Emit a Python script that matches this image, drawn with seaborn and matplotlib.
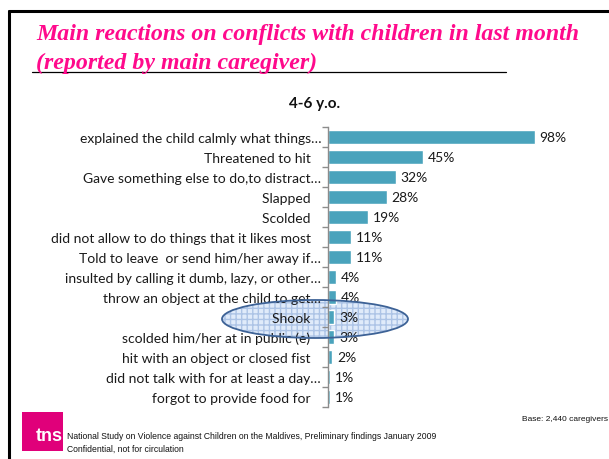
import numpy as np
import pandas as pd
import matplotlib
matplotlib.use("Agg")
import matplotlib.pyplot as plt
from matplotlib.patches import Ellipse, Rectangle
from matplotlib.lines import Line2D
import seaborn as sns

# Reactions reported for children aged 4-6
reactions = [
    "explained the child calmly what things\u2026",
    "Threatened to hit   ",
    "Gave something else to do,to distract\u2026",
    "Slapped   ",
    "Scolded   ",
    "did not allow to do things that it likes most   ",
    "Told to leave  or send him/her away if\u2026",
    "insulted by calling it dumb, lazy, or other\u2026",
    "throw an object at the child to get\u2026",
    "Shook   ",
    "scolded him/her at in public (e)   ",
    "hit with an object or closed fist   ",
    "did not talk with for at least a day\u2026",
    "forgot to provide food for   ",
]
shares = [98, 45, 32, 28, 19, 11, 11, 4, 4, 3, 3, 2, 1, 1]

df = pd.DataFrame({"reaction": reactions, "share": shares})

sns.set_theme(style="white")
plt.rcParams["font.family"] = ["Lato", "DejaVu Sans"]

W, H = 609, 460
fig = plt.figure(figsize=(W / 100, H / 100), dpi=100)
fig.patch.set_facecolor("white")

# slide frame
fig.add_artist(Line2D([9 / W, 9 / W], [0, 1 - 12 / H], transform=fig.transFigure,
                      color="black", lw=2.2))
fig.add_artist(Line2D([9 / W, 1], [1 - 12 / H, 1 - 12 / H], transform=fig.transFigure,
                      color="black", lw=2.2))

# slide title
title_kw = dict(family="Liberation Serif", style="italic", weight="bold",
                color="#ff0a8c", fontsize=17.2, ha="left", va="baseline")
fig.text(36 / W, 1 - 40 / H, "Main reactions on conflicts with children in last month", **title_kw)
fig.text(36 / W, 1 - 69 / H, "(reported by main caregiver)", **title_kw)
fig.add_artist(Line2D([32 / W, 506 / W], [1 - 73 / H, 1 - 73 / H], transform=fig.transFigure,
                      color="black", lw=0.9))

# highlight around "Shook": hatched fill sits behind the chart, outline on top
center = (315 / W, 1 - 320 / H)
ew, eh = 186 / W, 38 / H
fill = Ellipse(center, ew, eh, transform=fig.transFigure,
               facecolor=(0.88, 0.92, 0.98), edgecolor=(0.68, 0.77, 0.90),
               lw=0, hatch="+++", zorder=-1)
fig.add_artist(fill)
outline = Ellipse(center, ew, eh, transform=fig.transFigure,
                  facecolor="none", edgecolor="#3d6296", lw=1.3, zorder=6)
fig.add_artist(outline)

# chart area
left, right = 328 / W, 539 / W
top, bottom = 1 - 127.5 / H, 1 - 408 / H
ax = fig.add_axes([left, bottom, right - left, top - bottom])
sns.barplot(data=df, x="share", y="reaction", orient="h", color="#4aa3bc",
            saturation=1, width=0.7, ax=ax)
ax.set_xlim(0, 100)
ax.set_ylim(len(reactions) - 0.5, -0.5)
ax.set_xlabel("")
ax.set_ylabel("")
ax.set_xticks([])
for s in ["top", "right", "bottom"]:
    ax.spines[s].set_visible(False)
ax.spines["left"].set_color("#8c8c8c")
ax.spines["left"].set_linewidth(1.0)
ax.set_yticks(np.arange(-0.5, len(reactions), 1), minor=True)
ax.tick_params(axis="y", which="minor", left=True, length=4, color="#8c8c8c", width=1)
ax.tick_params(axis="y", which="major", length=0, pad=5, labelsize=10.0, labelcolor="#1a1a1a")
ax.set_facecolor("none")
ax.patch.set_alpha(0)

for i, v in enumerate(shares):
    ax.text(v + 2.2, i, f"{v}%", va="center", ha="left", fontsize=10.0, color="#1a1a1a")

fig.text(315 / W, 1 - 104 / H, "4-6 y.o.", ha="center", va="center",
         fontsize=11, weight="bold", color="#111111")

# footer
fig.add_artist(Rectangle((22 / W, 1 - 452 / H), 41 / W, 39 / H, transform=fig.transFigure,
                         facecolor="#e0007a", edgecolor="none"))
fig.text(49 / W, 1 - 437 / H, "tns", ha="center", va="center", color="white",
         fontsize=13, weight="bold", family="Liberation Sans")
foot_kw = dict(family="Liberation Sans", fontsize=6.2, color="#111111", ha="left", va="center")
fig.text(67 / W, 1 - 437 / H,
         "National Study on Violence against Children on the Maldives, Preliminary findings January 2009",
         **foot_kw)
fig.text(67 / W, 1 - 449 / H, "Confidential, not for circulation", **foot_kw)
fig.text(522 / W, 1 - 420 / H, "Base: 2,440 caregivers", family="Liberation Sans",
         fontsize=6.0, color="#111111", ha="left", va="center")

fig.savefig("out.png", dpi=100)
